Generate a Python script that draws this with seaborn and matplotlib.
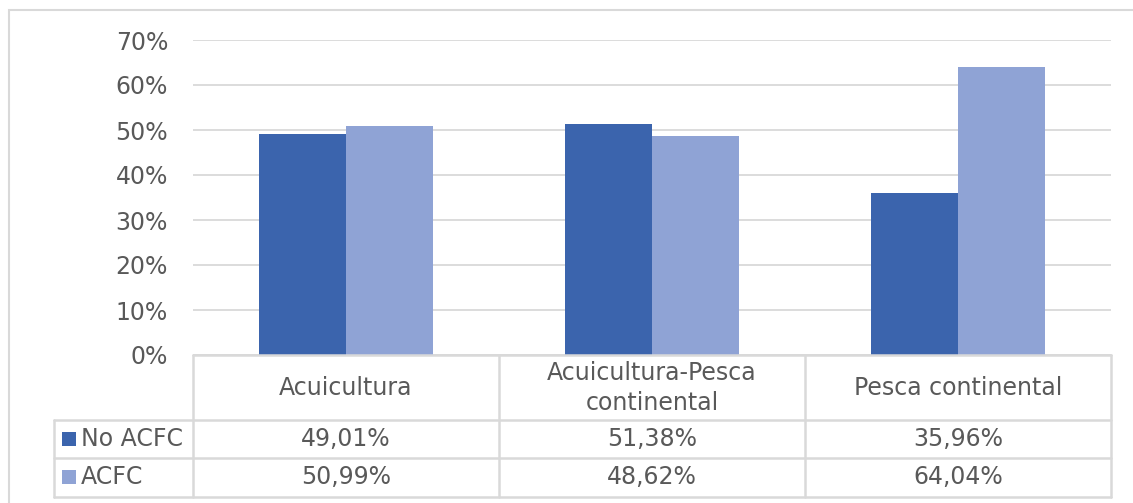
import matplotlib
matplotlib.use("Agg")
import matplotlib.pyplot as plt
import matplotlib.patches as patches
from matplotlib.lines import Line2D
from matplotlib.ticker import PercentFormatter
import seaborn as sns
import pandas as pd

# data
categories = ["Acuicultura", "Acuicultura-Pesca\ncontinental", "Pesca continental"]
series_names = ["No ACFC", "ACFC"]
no_acfc = [49.01, 51.38, 35.96]
acfc = [50.99, 48.62, 64.04]
y_ticks = [0, 0.1, 0.2, 0.3, 0.4, 0.5, 0.6, 0.7]

colors = ["#3B64AD", "#8FA3D5"]
text_color = "#595959"
line_color = "#D9D9D9"
font_size = 17

W, H = 1133, 503

df = pd.DataFrame({
    "categoria": categories * 2,
    "serie": [series_names[0]] * 3 + [series_names[1]] * 3,
    "valor": [v / 100 for v in no_acfc + acfc],
})

sns.set_theme(style="white")
plt.rcParams["font.family"] = ["DejaVu Sans"]

fig = plt.figure(figsize=(W / 100, H / 100), dpi=100)


def fx(px):
    return px / W


def fy(py):
    return 1 - py / H


ax = fig.add_axes([fx(193), fy(355), fx(1111) - fx(193), fy(40) - fy(355)])

sns.barplot(data=df, x="categoria", y="valor", hue="serie", palette=colors,
            width=0.57, gap=0, legend=False, ax=ax, saturation=1, zorder=3,
            linewidth=0)

ax.set_xlim(-0.5, 2.5)
ax.set_ylim(0, 0.7)
ax.set_yticks(y_ticks)
ax.yaxis.set_major_formatter(PercentFormatter(1.0, decimals=0))
ax.tick_params(axis="y", length=0, pad=18, labelsize=font_size, labelcolor=text_color)
ax.set_xticks([])
ax.set_xlabel("")
ax.set_ylabel("")
ax.grid(axis="y", color=line_color, linewidth=1.3, zorder=0)
for side in ["top", "right", "left", "bottom"]:
    ax.spines[side].set_visible(False)

# outer chart frame
fig.patches.append(patches.Rectangle((fx(9), fy(510)), fx(1140) - fx(9), fy(10) - fy(510),
                                     transform=fig.transFigure, fill=False,
                                     edgecolor=line_color, linewidth=1.5))


def hline(y, x0, x1):
    fig.lines.append(Line2D([fx(x0), fx(x1)], [fy(y), fy(y)], transform=fig.transFigure,
                            color=line_color, linewidth=1.8))


def vline(x, y0, y1):
    fig.lines.append(Line2D([fx(x), fx(x)], [fy(y0), fy(y1)], transform=fig.transFigure,
                            color=line_color, linewidth=1.8))


# data table under the chart
hline(355, 193, 1111)
for y in [420, 458, 497]:
    hline(y, 54, 1111)
col_edges = [193, 499, 805, 1111]
for x in col_edges:
    vline(x, 355, 497)
vline(54, 420, 497)

row_y = [439, 477]
for i, cat in enumerate(categories):
    cx = (col_edges[i] + col_edges[i + 1]) / 2
    fig.text(fx(cx), fy(388), cat, ha="center", va="center", fontsize=font_size,
             color=text_color, linespacing=1.3)
    for r, vals in enumerate([no_acfc, acfc]):
        label = f"{vals[i]:.2f}%".replace(".", ",")
        fig.text(fx(cx), fy(row_y[r]), label, ha="center", va="center",
                 fontsize=font_size, color=text_color)

for r, name in enumerate(series_names):
    fig.patches.append(patches.Rectangle((fx(62), fy(row_y[r] + 7)), fx(76) - fx(62), fy(0) - fy(14),
                                         transform=fig.transFigure, facecolor=colors[r],
                                         edgecolor="none"))
    fig.text(fx(81), fy(row_y[r]), name, ha="left", va="center", fontsize=font_size,
             color=text_color)

fig.savefig("out.png", dpi=100)
